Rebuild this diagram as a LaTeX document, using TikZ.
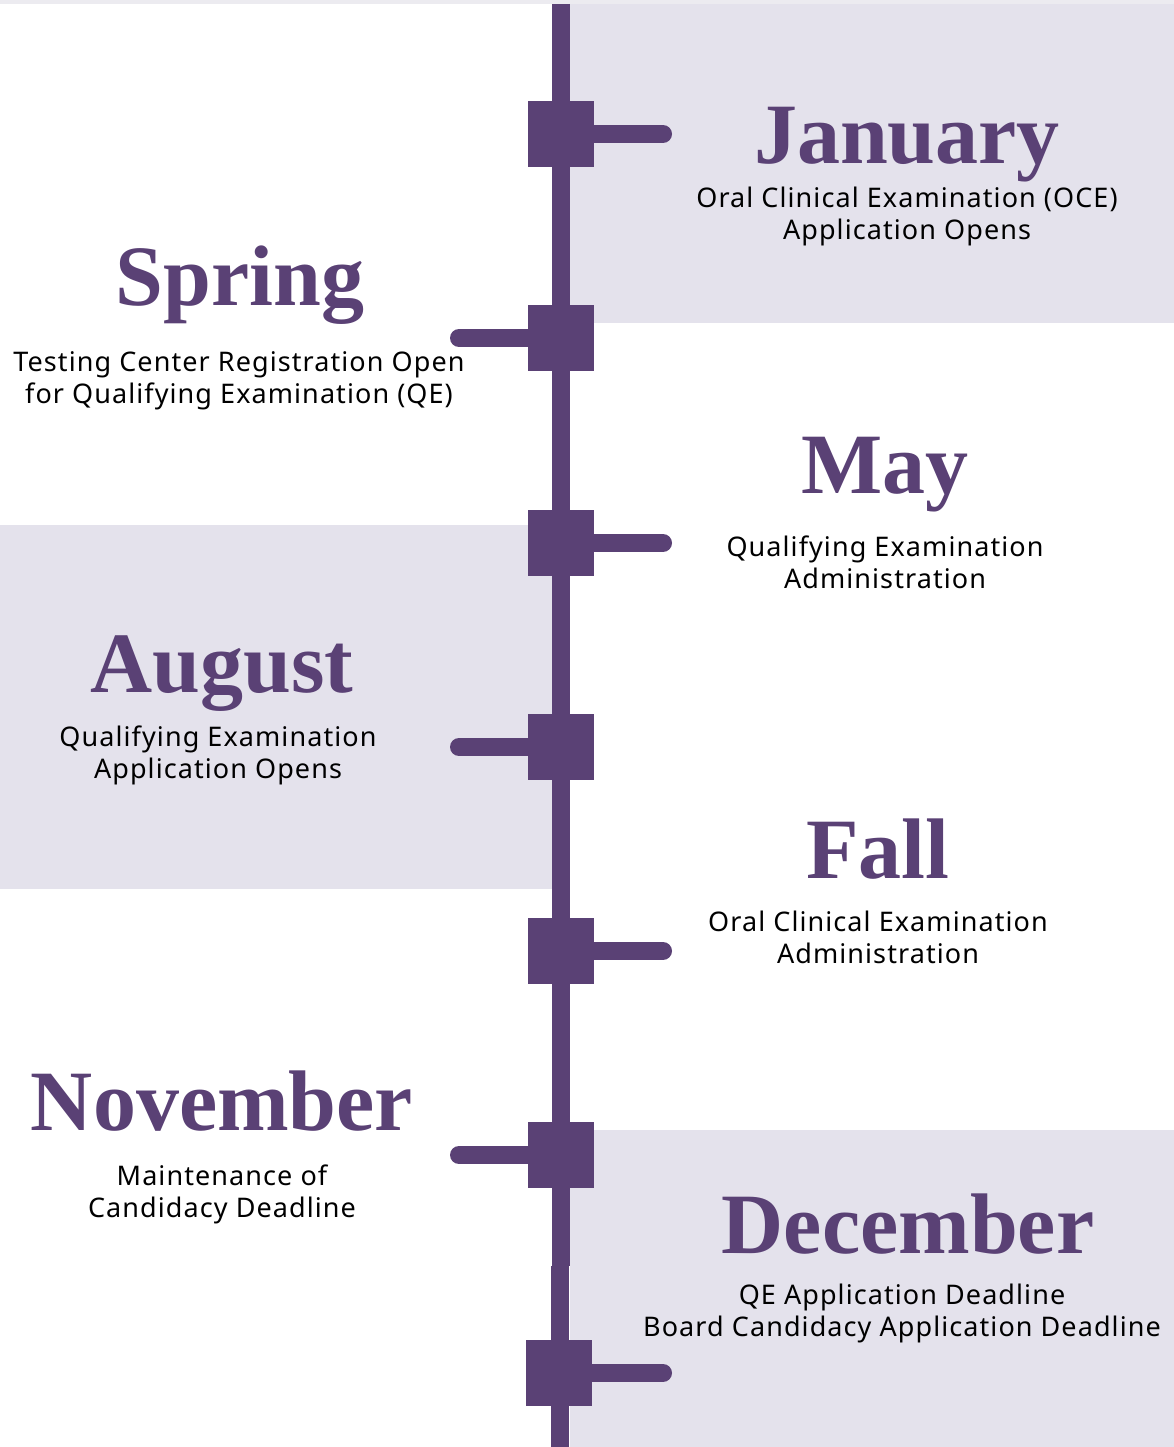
\documentclass[tikz,border=0pt]{standalone}
\usepackage{fontspec}
\setmainfont[LetterSpace=4]{Noto Sans}
\newfontfamily\headfont{Liberation Serif}
\definecolor{grape}{HTML}{5A4175}
\definecolor{mist}{HTML}{E4E2EC}
\definecolor{topmist}{HTML}{ECEBF0}
\begin{document}
\begin{tikzpicture}[
	x=1pt, y=-1pt,
	panel/.style={fill=mist, draw=none},
	stem/.style={draw=grape, line width=18pt},
	sqnode/.style={shape=rectangle, fill=grape, draw=none, minimum size=66pt, inner sep=0pt},
	arm/.style={draw=grape, line width=18pt, line cap=round},
	month/.style={anchor=base, text=grape, font=\headfont\bfseries\fontsize{86}{94}\selectfont, inner sep=0pt},
	info/.style={align=center, font=\fontsize{27}{32}\selectfont, inner sep=0pt},
]
\useasboundingbox (0,0) rectangle (1174,1447);
% backgrounds
\fill[topmist] (0,0) rectangle (1174,4);
\fill[panel] (570,4) rectangle (1174,323);
\fill[panel] (0,525) rectangle (552,889);
\fill[panel] (570,1130) rectangle (1174,1447);
% the time line
\coordinate (top) at (561,4);
\coordinate (kink) at (561,1266);
\coordinate (kinklow) at (559.5,1266);
\coordinate (bottom) at (559.5,1447);
\draw[stem] (top) -- (kink);
\draw[stem] (kinklow) -- (bottom);
% squares on the line
\node[sqnode] (jan) at (561,134) {};
\node[sqnode] (spr) at (561,338) {};
\node[sqnode] (may) at (561,543) {};
\node[sqnode] (aug) at (561,747) {};
\node[sqnode] (fal) at (561,951) {};
\node[sqnode] (nov) at (561,1155) {};
\node[sqnode] (dec) at (559,1373) {};
% arms
\coordinate (janend) at (663,134);
\coordinate (sprend) at (459,338);
\coordinate (mayend) at (663,543);
\coordinate (augend) at (459,747);
\coordinate (falend) at (663,951);
\coordinate (novend) at (459,1155);
\coordinate (decend) at (663,1373);
\draw[arm] (jan.east) -- (janend);
\draw[arm] (spr.west) -- (sprend);
\draw[arm] (may.east) -- (mayend);
\draw[arm] (aug.west) -- (augend);
\draw[arm] (fal.east) -- (falend);
\draw[arm] (nov.west) -- (novend);
\draw[arm] (dec.east) -- (decend);
% months
\node[month] (jant) at (907,164) {January};
\node[month] (sprt) at (240,305) {Spring};
\node[month] (mayt) at (885,493) {May};
\node[month] (augt) at (222,692) {August};
\node[month] (falt) at (878,878) {Fall};
\node[month] (novt) at (222,1130) {November};
\node[month] (dect) at (908,1253) {December};
% what happens
\node[info] (jani) at (907,216) {Oral Clinical Examination (OCE)\\Application Opens};
\node[info] (spri) at (239,381) {Testing Center Registration Open\\for Qualifying Examination (QE)};
\node[info] (mayi) at (885,562) {Qualifying Examination\\Administration};
\node[info] (augi) at (218,755) {Qualifying Examination\\Application Opens};
\node[info] (fali) at (878,937) {Oral Clinical Examination\\Administration};
\node[info] (novi) at (222,1194) {Maintenance of\\Candidacy Deadline};
\node[info] (deci) at (902,1313) {QE Application Deadline\\Board Candidacy Application Deadline};
\end{tikzpicture}
\end{document}
